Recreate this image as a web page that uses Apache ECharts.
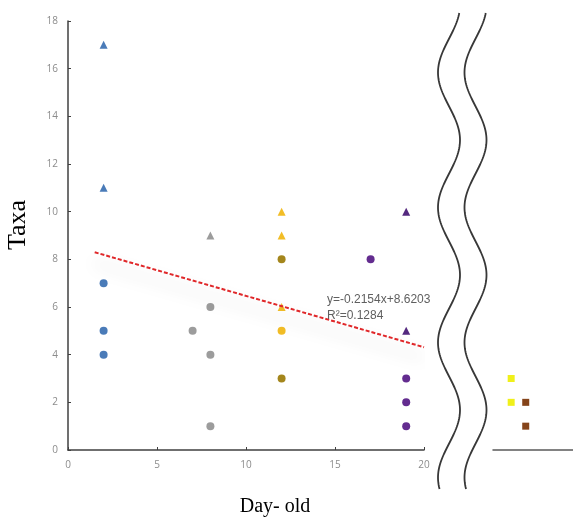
<!DOCTYPE html>
<html>
<head>
<meta charset="utf-8">
<script src="https://cdn.jsdelivr.net/npm/echarts@6/dist/echarts.min.js"></script>
<style>
  html, body { margin: 0; padding: 0; background: #ffffff; }
  #chart { width: 573px; height: 519px; }
</style>
</head>
<body>
<div id="chart"></div>
<script>
// Axis ranges and ticks
const xMin = 0, xMax = 20, xStep = 5;
const yMin = 0, yMax = 18, yStep = 2;

// Day-old groups (x = age in days, y = number of taxa)
const blueTriangles   = [[2, 17], [2, 11]];
const blueCircles     = [[2, 7], [2, 5], [2, 4]];
const grayTriangles   = [[8, 9]];
const grayCircles     = [[8, 6], [7, 5], [8, 4], [8, 1]];
const goldTriangles   = [[12, 10], [12, 9], [12, 6]];
const goldCircles     = [[12, 5]];
const oliveCircles    = [[12, 8], [12, 3]];
const purpleTriangles = [[19, 10], [19, 5]];
const purpleCircles   = [[17, 8], [19, 3], [19, 2], [19, 1]];

// Older groups shown past the axis break
const yellowSquares = [[5, 3], [5, 2]];
const brownSquares  = [[9, 2], [9, 1]];

// Linear trend: y = -0.2154x + 8.6203, R² = 0.1284
const trendSlope = -0.2154;
const trendIntercept = 8.6203;
const trendR2 = 0.1284;
const trendFrom = 1.5, trendTo = 20;
const trendLine = [trendFrom, trendTo].map(x => [x, trendSlope * x + trendIntercept]);

const chart = echarts.init(document.getElementById('chart'), null, { renderer: 'canvas' });

const labelStyle = { color: '#8c8c8c', fontSize: 10, fontFamily: 'Open Sans, Liberation Sans, sans-serif' };
const axisLine = { show: true, lineStyle: { color: '#404040', width: 1.5 } };

function scatter(name, data, symbol, size, color, grid) {
  return {
    name, type: 'scatter', data, symbol, symbolSize: size,
    xAxisIndex: grid, yAxisIndex: grid,
    itemStyle: { color, opacity: 1 },
    z: 3
  };
}

// Axis-break decoration: two parallel wavy strokes
function wave(cx) {
  const pts = [];
  for (let y = 13; y <= 490; y += 2) {
    pts.push([cx + 11 * Math.cos(2 * Math.PI * (y - 5) / 135), y]);
  }
  return pts;
}

const option = {
  backgroundColor: '#ffffff',
  animation: false,
  grid: [
    { left: 68, top: 21, width: 356, height: 429 },
    { left: 493, top: 21, width: 80, height: 429 }
  ],
  xAxis: [
    {
      type: 'value', gridIndex: 0, min: xMin, max: xMax, interval: xStep,
      axisLine, axisTick: { show: true, inside: true, length: 3, lineStyle: { color: '#404040' } },
      axisLabel: Object.assign({ margin: 10 }, labelStyle),
      splitLine: { show: false }
    },
    {
      type: 'value', gridIndex: 1, min: 0, max: 22,
      axisLine: { show: true, lineStyle: { color: '#595959', width: 1.5 } },
      axisTick: { show: false }, axisLabel: { show: false }, splitLine: { show: false }
    }
  ],
  yAxis: [
    {
      type: 'value', gridIndex: 0, min: yMin, max: yMax, interval: yStep,
      axisLine, axisTick: { show: true, inside: true, length: 3, lineStyle: { color: '#404040' } },
      axisLabel: Object.assign({ margin: 10 }, labelStyle),
      splitLine: { show: false }
    },
    {
      type: 'value', gridIndex: 1, min: yMin, max: yMax, interval: yStep,
      show: false
    }
  ],
  series: [
    scatter('Day 2 (max)', blueTriangles, 'triangle', 8, '#4a7bb8', 0),
    scatter('Day 2', blueCircles, 'circle', 8, '#4a7bb8', 0),
    scatter('Day 8 (max)', grayTriangles, 'triangle', 8, '#9c9c9c', 0),
    scatter('Day 8', grayCircles, 'circle', 8, '#9c9c9c', 0),
    scatter('Day 12 (max)', goldTriangles, 'triangle', 8, '#f2bd26', 0),
    scatter('Day 12', goldCircles, 'circle', 8, '#f2bd26', 0),
    scatter('Day 12 b', oliveCircles, 'circle', 8, '#a4861c', 0),
    scatter('Day 19 (max)', purpleTriangles, 'triangle', 8, '#54297f', 0),
    scatter('Day 19', purpleCircles, 'circle', 8, '#632c8f', 0),
    scatter('Adult A', yellowSquares, 'rect', 7, '#f0f01a', 1),
    scatter('Adult B', brownSquares, 'rect', 7, '#85441a', 1),
    {
      name: 'Linear trend', type: 'line', data: trendLine,
      xAxisIndex: 0, yAxisIndex: 0,
      symbol: 'none', silent: true, z: 4,
      lineStyle: {
        color: '#e0282a', width: 2, type: [4, 2],
        shadowColor: 'rgba(0,0,0,0.28)', shadowBlur: 16, shadowOffsetY: 11
      }
    }
  ],
  graphic: [
    {
      type: 'text', left: 327, top: 292, z: 10,
      style: {
        text: 'y=' + trendSlope + 'x+' + trendIntercept + '\nR²=' + trendR2,
        fill: '#5f5f5f', fontSize: 12, lineHeight: 16,
        fontFamily: 'Liberation Sans, Arial, sans-serif'
      }
    },
    {
      type: 'text', x: 18, y: 225, rotation: Math.PI / 2, z: 10,
      style: {
        text: 'Taxa', fill: '#000000', fontSize: 26,
        fontFamily: 'Liberation Serif, Times New Roman, serif',
        align: 'center', verticalAlign: 'middle'
      }
    },
    {
      type: 'text', x: 275, y: 507, z: 10,
      style: {
        text: 'Day- old', fill: '#000000', fontSize: 20,
        fontFamily: 'Liberation Serif, Times New Roman, serif',
        align: 'center', verticalAlign: 'middle'
      }
    },
    {
      type: 'polyline', z: 10, silent: true,
      shape: { points: wave(449) },
      style: { stroke: '#383838', lineWidth: 1.8, fill: null }
    },
    {
      type: 'polyline', z: 10, silent: true,
      shape: { points: wave(475.5) },
      style: { stroke: '#383838', lineWidth: 1.8, fill: null }
    }
  ]
};

chart.setOption(option);
</script>
</body>
</html>
